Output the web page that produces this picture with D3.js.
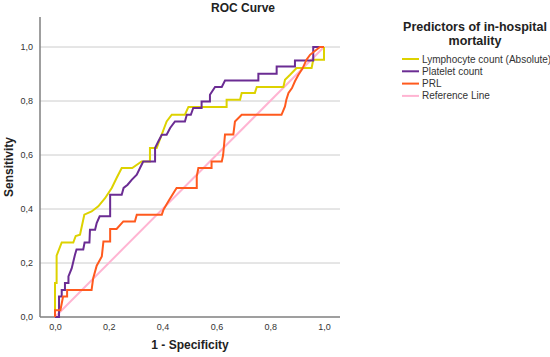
<!DOCTYPE html>
<html>
<head>
<meta charset="utf-8">
<script src="https://cdn.jsdelivr.net/npm/d3@7"></script>
<style>
    body { margin: 0; background: #fff; }
    svg { font-family: "Liberation Sans", Arial, sans-serif; }
</style>
</head>
<body>
<div id="rocChart"></div>
<script>
// ROC points [1 - specificity, sensitivity]
let lymphocytePoints = [[0,0],[0,0.126],[0.006,0.126],[0.006,0.227],[0.025,0.276],[0.068,0.276],[0.077,0.30],[0.093,0.305],
    [0.109,0.379],[0.136,0.391],[0.161,0.41],[0.186,0.44],[0.211,0.478],[0.229,0.515],[0.248,0.552],[0.287,0.552],
    [0.322,0.576],[0.353,0.576],[0.353,0.626],[0.378,0.626],[0.415,0.724],[0.434,0.749],[0.483,0.749],[0.496,0.778],
    [0.638,0.778],[0.638,0.805],[0.688,0.805],[0.694,0.83],[0.743,0.83],[0.75,0.852],[0.849,0.852],[0.855,0.879],
    [0.874,0.897],[0.898,0.922],[0.954,0.922],[0.96,0.953],[1,0.953],[1,1]];
let plateletPoints = [[0,0],[0.015,0],[0.015,0.076],[0.025,0.076],[0.025,0.1],[0.037,0.1],[0.037,0.126],[0.05,0.126],
    [0.05,0.15],[0.062,0.18],[0.074,0.23],[0.08,0.25],[0.105,0.25],[0.11,0.276],[0.128,0.276],[0.13,0.323],[0.149,0.323],
    [0.155,0.348],[0.166,0.373],[0.205,0.373],[0.205,0.453],[0.248,0.453],[0.255,0.478],[0.27,0.49],[0.285,0.508],
    [0.304,0.527],[0.316,0.552],[0.328,0.576],[0.372,0.576],[0.372,0.626],[0.384,0.65],[0.397,0.675],[0.415,0.675],
    [0.428,0.70],[0.446,0.724],[0.483,0.724],[0.49,0.749],[0.505,0.749],[0.514,0.774],[0.545,0.774],[0.545,0.798],
    [0.576,0.798],[0.576,0.823],[0.595,0.852],[0.62,0.852],[0.632,0.876],[0.756,0.876],[0.756,0.901],[0.824,0.901],
    [0.824,0.928],[0.892,0.928],[0.892,0.95],[0.96,0.95],[0.96,1],[1,1]];
let prlPoints = [[0,0],[0,0.025],[0.02,0.025],[0.025,0.05],[0.03,0.076],[0.045,0.076],[0.045,0.1],[0.136,0.1],
    [0.142,0.144],[0.155,0.19],[0.174,0.224],[0.18,0.28],[0.205,0.28],[0.205,0.326],[0.229,0.326],[0.254,0.354],
    [0.297,0.354],[0.304,0.379],[0.397,0.379],[0.403,0.397],[0.421,0.428],[0.452,0.478],[0.527,0.478],[0.527,0.521],
    [0.533,0.552],[0.582,0.552],[0.582,0.576],[0.62,0.576],[0.625,0.60],[0.632,0.676],[0.663,0.676],[0.669,0.724],
    [0.694,0.749],[0.842,0.749],[0.855,0.78],[0.86,0.805],[0.868,0.83],[0.881,0.848],[0.892,0.873],[0.905,0.897],
    [0.92,0.92],[0.935,0.953],[0.948,0.971],[0.985,1],[1,1]];
let referencePoints = [[0,0],[1,1]];

let seriesNames = ["Lymphocyte count (Absolute)", "Platelet count", "PRL", "Reference Line"];
let seriesColors = ["#ddd200", "#6b2c93", "#ff5a1e", "#ffb4d2"];
let tickValues = [0, 0.2, 0.4, 0.6, 0.8, 1.0];
let tickLabels = ["0,0", "0,2", "0,4", "0,6", "0,8", "1,0"];

let width = 550, height = 357;
let svg = d3.select("#rocChart").append("svg")
        .attr("width", width)
        .attr("height", height);

let plot = {left: 40, right: 340, top: 17, bottom: 317};
let xScale = d3.scaleLinear().domain([0, 1]).range([55, 324]);
let yScale = d3.scaleLinear().domain([0, 1]).range([317, 47]);

// gridlines
svg.append("g").selectAll("line")
        .data(tickValues.slice(1))
        .enter().append("line")
        .attr("x1", plot.left).attr("x2", plot.right)
        .attr("y1", d => yScale(d)).attr("y2", d => yScale(d))
        .attr("stroke", "#cccccc").attr("stroke-width", 1);

// axes, drawn through d3 axis then restyled
let yAxis = svg.append("g").attr("transform", "translate(" + plot.left + ",0)")
        .call(d3.axisLeft(yScale).tickValues(tickValues).tickSize(0).tickPadding(7)
            .tickFormat((d, i) => tickLabels[i]));
let xAxis = svg.append("g").attr("transform", "translate(0," + plot.bottom + ")")
        .call(d3.axisBottom(xScale).tickValues(tickValues).tickSize(0).tickPadding(7)
            .tickFormat((d, i) => tickLabels[i]));
[yAxis, xAxis].forEach(a => {
    a.select(".domain").remove();
    a.selectAll("text").attr("font-size", 9).attr("fill", "#333")
        .attr("font-family", "'Liberation Sans', Arial, sans-serif");
});
svg.append("line").attr("x1", plot.left).attr("x2", plot.left)
        .attr("y1", plot.top).attr("y2", plot.bottom)
        .attr("stroke", "#7f7f7f").attr("stroke-width", 1.5);
svg.append("line").attr("x1", plot.left).attr("x2", plot.right)
        .attr("y1", plot.bottom).attr("y2", plot.bottom)
        .attr("stroke", "#7f7f7f").attr("stroke-width", 1.5);

// curves
let line = d3.line().x(d => xScale(d[0])).y(d => yScale(d[1]));
let allSeries = [lymphocytePoints, plateletPoints, prlPoints, referencePoints];
let drawOrder = [3, 0, 1, 2];
for (let i of drawOrder) {
    svg.append("path")
        .datum(allSeries[i])
        .attr("d", line)
        .attr("fill", "none")
        .attr("stroke", seriesColors[i])
        .attr("stroke-width", 2)
        .attr("stroke-linejoin", "miter");
}

// titles
svg.append("text").attr("x", 243).attr("y", 12).attr("text-anchor", "middle")
        .attr("font-size", 12).attr("font-weight", "bold").attr("fill", "#222").text("ROC Curve");
svg.append("text").attr("x", 190).attr("y", 349).attr("text-anchor", "middle")
        .attr("font-size", 12).attr("font-weight", "bold").attr("fill", "#222").text("1 - Specificity");
svg.append("text").attr("transform", "translate(13,167) rotate(-90)").attr("text-anchor", "middle")
        .attr("font-size", 12).attr("font-weight", "bold").attr("fill", "#222").text("Sensitivity");

// legend
let legend = svg.append("g");
legend.append("text").attr("x", 475).attr("y", 31).attr("text-anchor", "middle")
        .attr("font-size", 12.5).attr("font-weight", "bold").attr("fill", "#222").text("Predictors of in-hospital");
legend.append("text").attr("x", 475).attr("y", 45).attr("text-anchor", "middle")
        .attr("font-size", 12.5).attr("font-weight", "bold").attr("fill", "#222").text("mortality");
let items = legend.selectAll(".item").data(seriesNames).enter().append("g")
        .attr("transform", (d, i) => "translate(0," + (59 + i * 12.3) + ")");
items.append("line").attr("x1", 402).attr("x2", 419)
        .attr("stroke", (d, i) => seriesColors[i]).attr("stroke-width", 2);
items.append("text").attr("x", 422).attr("dy", "0.35em")
        .attr("font-size", 10).attr("fill", "#333").text(d => d);
</script>
</body>
</html>
